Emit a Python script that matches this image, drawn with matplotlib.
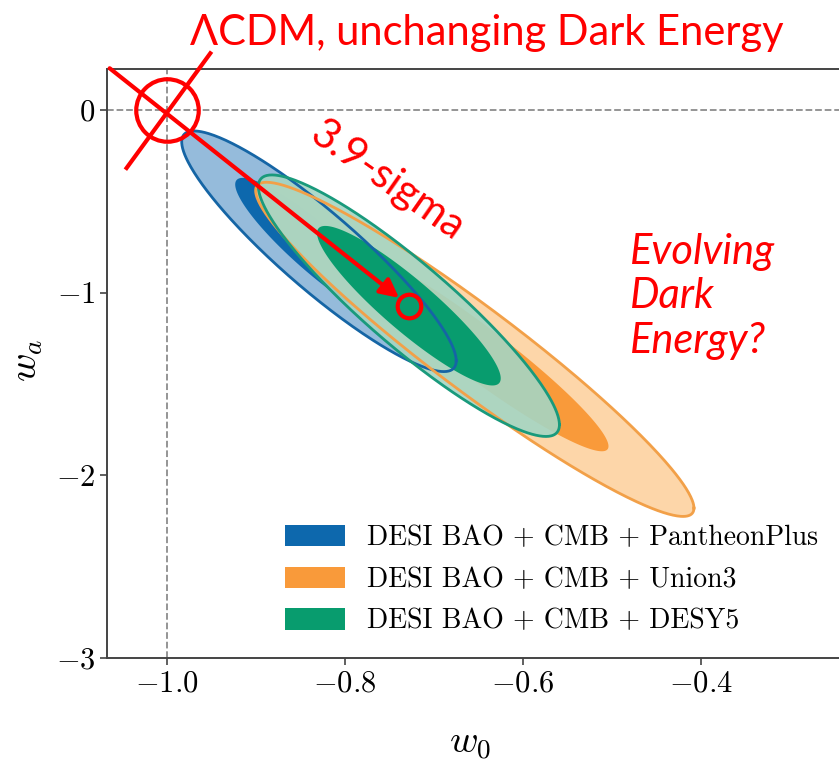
import numpy as np
import matplotlib.pyplot as plt
from matplotlib.patches import Patch

plt.rcParams['font.family'] = 'serif'
plt.rcParams['font.serif'] = ['cmr10']
plt.rcParams['mathtext.fontset'] = 'cm'
plt.rcParams['axes.formatter.use_mathtext'] = True

# (w0, wa) posteriors approximated as 2D gaussians
labels = ['DESI BAO + CMB + PantheonPlus',
          'DESI BAO + CMB + Union3',
          'DESI BAO + CMB + DESY5']
w0_mean = [-0.829, -0.654, -0.728]
wa_mean = [-0.773, -1.310, -1.071]
w0_sig = [0.062, 0.099, 0.068]
wa_sig = [0.265, 0.368, 0.288]
rho = [-0.91, -0.95, -0.91]

col_dark = ['#0d68ad', '#f99a3a', '#089c6e']
col_light = ['#8ab4d7', '#fdd2a0', '#a5d5c3']
col_edge = ['#1565a5', '#f2a048', '#199a7c']

# delta chi^2 for 68% and 95% in 2 params
levels = [2.30, 6.18]

lcdm = (-1.0, 0.0)
best = (w0_mean[2], wa_mean[2])

red = '#ff0000'
lato = ['Lato', 'DejaVu Sans']


def contour(i, dchi2):
    t = np.linspace(0, 2 * np.pi, 400)
    k = np.sqrt(dchi2)
    x = w0_mean[i] + k * w0_sig[i] * np.cos(t)
    y = wa_mean[i] + k * wa_sig[i] * (rho[i] * np.cos(t) + np.sqrt(1 - rho[i] ** 2) * np.sin(t))
    return x, y


fig = plt.figure(figsize=(8.39, 7.63), dpi=100)
ax = fig.add_axes([107 / 839, 105 / 763, 732 / 839, 589 / 763])

for i in range(3):
    x, y = contour(i, levels[1])
    ax.fill(x, y, color=col_light[i], alpha=0.9, lw=0, zorder=2)
    x, y = contour(i, levels[0])
    ax.fill(x, y, color=col_dark[i], lw=0, zorder=2)
for i in range(3):
    x, y = contour(i, levels[1])
    ax.plot(x, y, color=col_edge[i], lw=2.0, zorder=3)

ax.axvline(-1.0, color='0.55', ls='--', lw=1.3, zorder=1)
ax.axhline(0.0, color='0.55', ls='--', lw=1.3, zorder=1)

ax.set_xlim(-1.067, -0.245)
ax.set_ylim(-3.0, 0.225)
ax.set_xticks([-1.0, -0.8, -0.6, -0.4])
ax.set_yticks([0, -1, -2, -3])
ax.tick_params(labelsize=22, width=1.2, length=5, color='#444444')
for s in ['left', 'top', 'bottom']:
    ax.spines[s].set_color('#444444')
    ax.spines[s].set_linewidth(1.4)
ax.spines['right'].set_visible(False)

ax.set_xlabel(r'$w_0$', fontsize=28)
ax.set_ylabel(r'$w_a$', fontsize=28)
ax.xaxis.set_label_coords(0.496, -0.115)
ax.yaxis.set_label_coords(-0.085, 0.506)

handles = [Patch(facecolor=c, edgecolor='none') for c in col_dark]
ax.legend(handles, labels, loc='upper left', frameon=False, fontsize=20,
          bbox_to_anchor=(285 / 839, 1 - 525 / 763), bbox_transform=fig.transFigure,
          borderpad=0, borderaxespad=0, handlelength=2.15, handleheight=0.8,
          handletextpad=0.8, labelspacing=0.55)

# LCDM point crossed out, arrow to the DESY5 best fit
ax.plot(*lcdm, 'o', ms=45, mfc='none', mec=red, mew=3, zorder=5, clip_on=False)
ax.plot([-1.045, -0.951], [-0.317, 0.311], color=red, lw=3, zorder=5, clip_on=False)
ax.plot(*best, 'o', ms=17, mfc='none', mec=red, mew=3, zorder=5)
ax.annotate('', xy=best, xytext=(-1.064, 0.229),
            arrowprops=dict(arrowstyle='-|>', color=red, lw=3, mutation_scale=28,
                            shrinkA=0, shrinkB=9),
            annotation_clip=False, zorder=5)

ax.text(-0.752, -0.388, '3.9-sigma', color=red, fontsize=30, family=lato,
        rotation=-35, ha='center', va='center', rotation_mode='anchor', zorder=6)
ax.text(-0.480, -1.328, 'Evolving\nDark\nEnergy?', color=red, fontsize=30,
        family=lato, style='italic', ha='left', va='baseline', linespacing=1.2)
fig.text(190 / 839, 1 - 45 / 763, '\u039bCDM, unchanging Dark Energy', color=red,
         fontsize=30, family=lato, ha='left', va='baseline')

fig.savefig('out.png', dpi=100)
